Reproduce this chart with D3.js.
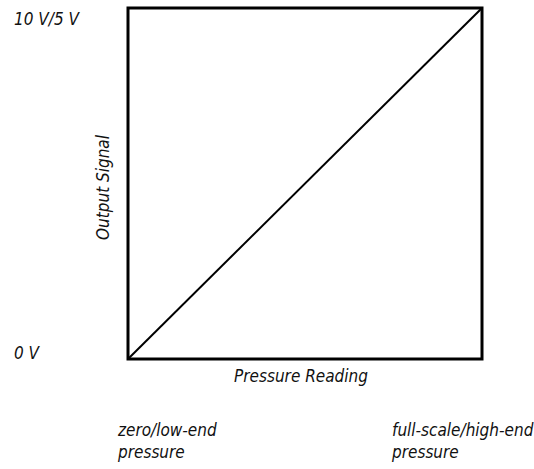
<!DOCTYPE html>
<html>
<head>
<meta charset="utf-8">
<script src="https://cdn.jsdelivr.net/npm/d3@7"></script>
<style>
  body { margin: 0; background: #fff; }
  text { font-family: "DejaVu Sans Condensed", "DejaVu Sans", sans-serif; font-stretch: condensed; font-style: italic; fill: #111; font-size: 17px; }
</style>
</head>
<body>
<div id="chart"></div>
<script>
// data
var pressure = [0, 1];          // fraction of full scale
var signal = [0, 1];            // fraction of full output
var yTickValues = [0, 1];
var yTickLabels = ["0 V", "10 V/5 V"];
var xTickValues = [0, 1];
var xTickLabels = [["zero/low-end", "pressure"], ["full-scale/high-end", "pressure"]];
var xTitle = "Pressure Reading";
var yTitle = "Output Signal";

var width = 534, height = 469;
var margin = {top: 8, right: 52, bottom: 110, left: 128};

var svg = d3.select("#chart").append("svg")
    .attr("width", width)
    .attr("height", height);

var x = d3.scaleLinear().domain([0, 1]).range([margin.left, width - margin.right]);
var y = d3.scaleLinear().domain([0, 1]).range([height - margin.bottom, margin.top]);

// frame
svg.append("rect")
    .attr("x", x(0))
    .attr("y", y(1))
    .attr("width", x(1) - x(0))
    .attr("height", y(0) - y(1))
    .attr("fill", "none")
    .attr("stroke", "#000")
    .attr("stroke-width", 3);

// the linear response
var line = d3.line()
    .x(function (d) { return x(d[0]); })
    .y(function (d) { return y(d[1]); });

svg.append("path")
    .datum(d3.zip(pressure, signal))
    .attr("d", line)
    .attr("fill", "none")
    .attr("stroke", "#000")
    .attr("stroke-width", 2);

// y labels, left aligned at the page edge
svg.selectAll(".ylab").data(yTickValues)
    .enter()
    .append("text")
    .attr("class", "ylab")
    .attr("x", 14)
    .attr("y", function (d) { return d == 1 ? y(d) + 17 : y(d); })
    .text(function (d, i) { return yTickLabels[i]; });

// x labels, two lines each; the right one is shifted left so it fits
var xl = svg.selectAll(".xlab").data(xTickValues)
    .enter()
    .append("text")
    .attr("class", "xlab")
    .attr("x", function (d) { return d == 1 ? x(d) - 90 : x(d) - 10; })
    .attr("y", 436);

xl.selectAll("tspan")
    .data(function (d, i) { return xTickLabels[i]; })
    .enter()
    .append("tspan")
    .attr("x", function () { return d3.select(this.parentNode).attr("x"); })
    .attr("dy", function (d, i) { return i == 0 ? 0 : 22; })
    .text(function (d) { return d; });

// axis titles
svg.append("text")
    .attr("x", (x(0) + x(1)) / 2 - 4)
    .attr("y", 382)
    .attr("text-anchor", "middle")
    .text(xTitle);

svg.append("text")
    .attr("transform", "translate(109," + ((y(0) + y(1)) / 2 + 4) + ") rotate(-90)")
    .attr("text-anchor", "middle")
    .text(yTitle);
</script>
</body>
</html>
